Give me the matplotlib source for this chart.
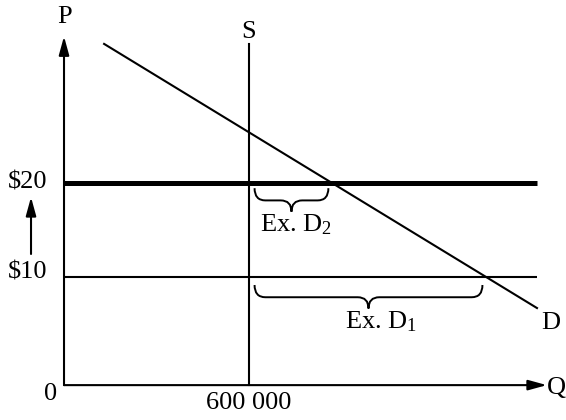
import numpy as np
import matplotlib
matplotlib.use("Agg")
import matplotlib.pyplot as plt
from matplotlib.path import Path
import matplotlib.patches as mpatches

plt.rcParams['font.family'] = ['Liberation Serif', 'DejaVu Serif']
plt.rcParams['mathtext.default'] = 'regular'

#%% data (schematic: price in $, quantity in units)
price_levels = [10, 20]          # old price, new price
price_labels = ['$10', '$20']
price_widths = [1.5, 3.6]
supply_q = 600                   # vertical supply at 600 000
supply_top = 34.8
demand_q = [130, 1534]           # demand line end points
demand_p = [34.8, 6.7]
line_end_q = 1534                # horizontal price lines end here
excess_labels = [r'Ex. D$_1$', r'Ex. D$_2$']

# axis frame of the sketch
axis_p = -1.5
q_tip = 1566
p_tip = 35.6

#%%
fig = plt.figure(figsize=(5.66, 4.2), dpi=100)
ax = fig.add_axes([0, 0, 1, 1])
ax.set_xlim(-207.6, 1628.1)
ax.set_ylim(-5.21, 39.47)
ax.axis('off')

lw = 1.5

# axes with arrows
arrow_kw = dict(arrowstyle='-|>,head_length=0.8,head_width=0.22', color='black',
                lw=lw, shrinkA=0, shrinkB=0, mutation_scale=14)
ax.annotate('', xy=(0, p_tip), xytext=(0, axis_p), arrowprops=arrow_kw)
ax.annotate('', xy=(q_tip, axis_p), xytext=(0, axis_p), arrowprops=arrow_kw)

# supply
ax.plot([supply_q, supply_q], [axis_p, supply_top], color='black', lw=lw)

# demand
ax.plot(demand_q, demand_p, color='black', lw=lw)

# price lines
for p, w in zip(price_levels, price_widths):
    ax.plot([0, line_end_q], [p, p], color='black', lw=w, solid_capstyle='butt')


def brace(ax, x0, x1, y, top, mid, tip, r):
    xc = (x0 + x1) / 2
    verts = [(x0, y - top), (x0, y - mid), (x0 + r, y - mid),
             (xc - r, y - mid), (xc, y - mid), (xc, y - tip),
             (xc, y - mid), (xc + r, y - mid),
             (x1 - r, y - mid), (x1, y - mid), (x1, y - top)]
    codes = [Path.MOVETO, Path.CURVE3, Path.CURVE3,
             Path.LINETO, Path.CURVE3, Path.CURVE3,
             Path.CURVE3, Path.CURVE3,
             Path.LINETO, Path.CURVE3, Path.CURVE3]
    ax.add_patch(mpatches.PathPatch(Path(verts, codes), fill=False, lw=1.4,
                                    edgecolor='black'))


# excess demand braces, from supply to demand at each price
slope = (demand_q[1] - demand_q[0]) / (demand_p[1] - demand_p[0])
label_dx = [42, 13]
label_dy = [-4.8, -4.4]
for p, lab, dx, dy in zip(price_levels, excess_labels, label_dx, label_dy):
    qd = demand_q[0] + (p - demand_p[0]) * slope
    top = 0.85 if p == 10 else 0.55
    brace(ax, supply_q + 18, qd - 12, p, top, top + 1.3, top + 2.5, 35)
    xc = (supply_q + 18 + qd - 12) / 2
    ax.text(xc + dx, p + dy, lab, fontsize=19, ha='center', va='center')

# labels
fs = 19
ax.text(3, 37.66, 'P', fontsize=fs, ha='center', va='center')
ax.text(supply_q - 3, 36.1, 'S', fontsize=fs, ha='center', va='center')
ax.text(-55, 20.1, price_labels[1], fontsize=fs, ha='right', va='center')
ax.text(-55, 10.45, price_labels[0], fontsize=fs, ha='right', va='center')
ax.text(-45, -2.4, '0', fontsize=fs, ha='center', va='center')
ax.text(supply_q, -3.45, '600 000', fontsize=fs, ha='center', va='center')
ax.text(1596, -1.8, 'Q', fontsize=fs, ha='center', va='center')
ax.text(1580, 5.1, 'D', fontsize=fs, ha='center', va='center')

# price rise arrow
ax.annotate('', xy=(-107, 18.5), xytext=(-107, 12.45),
            arrowprops=dict(arrowstyle='-|>,head_length=0.8,head_width=0.22',
                            color='black', lw=lw, shrinkA=0, shrinkB=0,
                            mutation_scale=14))

fig.savefig('out.png', dpi=100)
